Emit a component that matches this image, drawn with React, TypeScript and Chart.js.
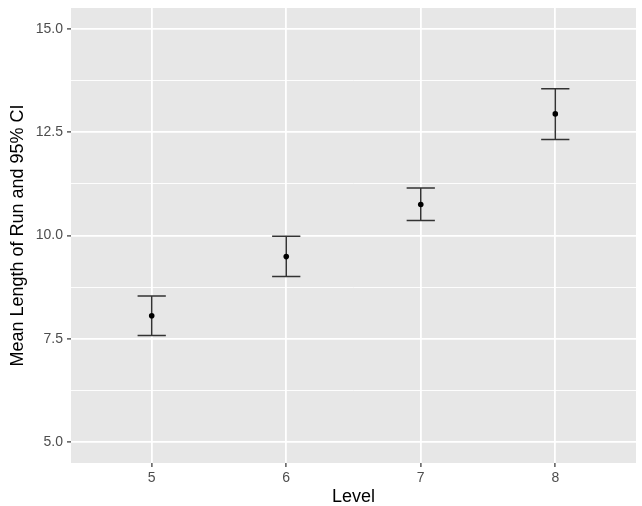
import { Chart, registerables } from "chart.js";
import { useEffect, useRef } from "react";

Chart.register(...registerables);

// values
const levels = [5, 6, 7, 8];
const meanRun = [8.06, 9.49, 10.75, 12.94];
const lowerCI = [7.58, 9.01, 10.36, 12.32];
const upperCI = [8.54, 9.98, 11.15, 13.55];

const xTickLabels = ["5", "6", "7", "8"];
const yMajorTicks = [5, 7.5, 10, 12.5, 15];
const yTickLabels = ["5.0", "7.5", "10.0", "12.5", "15.0"];
const yMinorTicks = [6.25, 8.75, 11.25, 13.75];

const FONT = "'Liberation Sans', Arial, Helvetica, sans-serif";
const PANEL = "#E7E7E7";
const TICK_TEXT = "#4D4D4D";
const CAP_HALF = 0.105;

const panelBackground = {
  id: "panelBackground",
  beforeDraw(chart: Chart) {
    const { ctx, chartArea } = chart;
    ctx.save();
    ctx.fillStyle = PANEL;
    ctx.fillRect(chartArea.left, chartArea.top, chartArea.right - chartArea.left, chartArea.bottom - chartArea.top);
    ctx.restore();
  }
};

const errorBars = {
  id: "errorBars",
  beforeDatasetsDraw(chart: Chart) {
    const { ctx } = chart;
    const x = chart.scales.x;
    const y = chart.scales.y;
    ctx.save();
    ctx.strokeStyle = "#333333";
    ctx.lineWidth = 1.5;
    levels.forEach((level, i) => {
      const px = x.getPixelForValue(level);
      const left = x.getPixelForValue(level - CAP_HALF);
      const right = x.getPixelForValue(level + CAP_HALF);
      const top = y.getPixelForValue(upperCI[i]);
      const bottom = y.getPixelForValue(lowerCI[i]);
      ctx.beginPath();
      ctx.moveTo(px, top);
      ctx.lineTo(px, bottom);
      ctx.moveTo(left, top);
      ctx.lineTo(right, top);
      ctx.moveTo(left, bottom);
      ctx.lineTo(right, bottom);
      ctx.stroke();
    });
    ctx.restore();
  }
};

export default function App() {
  const canvasRef = useRef<HTMLCanvasElement | null>(null);

  useEffect(() => {
    document.body.style.margin = "0";
    if (!canvasRef.current) {
      return undefined;
    }

    const chart = new Chart(canvasRef.current, {
      type: "scatter",
      data: {
        datasets: [
          {
            label: "Mean",
            data: levels.map((level, i) => ({ x: level, y: meanRun[i] })),
            backgroundColor: "#000000",
            borderWidth: 0,
            pointRadius: 2.8
          }
        ]
      },
      options: {
        animation: false,
        responsive: true,
        maintainAspectRatio: false,
        layout: {
          padding: { left: 0, right: 6, top: 8, bottom: 0 }
        },
        plugins: {
          legend: { display: false },
          tooltip: { enabled: false }
        },
        scales: {
          x: {
            type: "linear",
            min: 4.4,
            max: 8.6,
            afterBuildTicks: (scale) => {
              scale.ticks = levels.map((value) => ({ value }));
            },
            afterFit: (scale) => {
              scale.height = 43;
              scale.paddingLeft = 0;
              scale.paddingRight = 0;
            },
            border: { display: false },
            grid: {
              color: "#FFFFFF",
              lineWidth: 1.8,
              tickLength: 4,
              tickColor: "#333333",
              tickWidth: 1.2
            },
            ticks: {
              autoSkip: false,
              maxRotation: 0,
              padding: 3,
              color: TICK_TEXT,
              font: { family: FONT, size: 14 },
              callback: (value) => xTickLabels[levels.indexOf(Number(value))] ?? ""
            },
            title: {
              display: true,
              text: "Level",
              color: "#000000",
              padding: { top: 0, bottom: 0 },
              font: { family: FONT, size: 18, lineHeight: 1 }
            }
          },
          y: {
            min: 4.5,
            max: 15.5,
            afterBuildTicks: (scale) => {
              scale.ticks = [...yMajorTicks, ...yMinorTicks].sort((a, b) => a - b).map((value) => ({ value }));
            },
            afterFit: (scale) => {
              scale.width = 71;
              scale.paddingTop = 0;
              scale.paddingBottom = 0;
            },
            border: { display: false },
            grid: {
              color: "#FFFFFF",
              lineWidth: (ctx) => (yMajorTicks.includes(ctx.tick?.value) ? 1.8 : 0.9),
              tickLength: 4,
              tickColor: (ctx) => (yMajorTicks.includes(ctx.tick?.value) ? "#333333" : "rgba(0,0,0,0)"),
              tickWidth: 1.2
            },
            ticks: {
              autoSkip: false,
              padding: 4,
              color: TICK_TEXT,
              font: { family: FONT, size: 14 },
              callback: (value) => {
                const i = yMajorTicks.indexOf(Number(value));
                return i >= 0 ? yTickLabels[i] : "";
              }
            },
            title: {
              display: true,
              text: "Mean Length of Run and 95% CI",
              color: "#000000",
              padding: { top: 9, bottom: 0 },
              font: { family: FONT, size: 18, lineHeight: 1 }
            }
          }
        }
      },
      plugins: [panelBackground, errorBars]
    });

    return () => chart.destroy();
  }, []);

  return (
    <div style={{ width: 642, height: 506, position: "relative" }}>
      <canvas ref={canvasRef} />
    </div>
  );
}
